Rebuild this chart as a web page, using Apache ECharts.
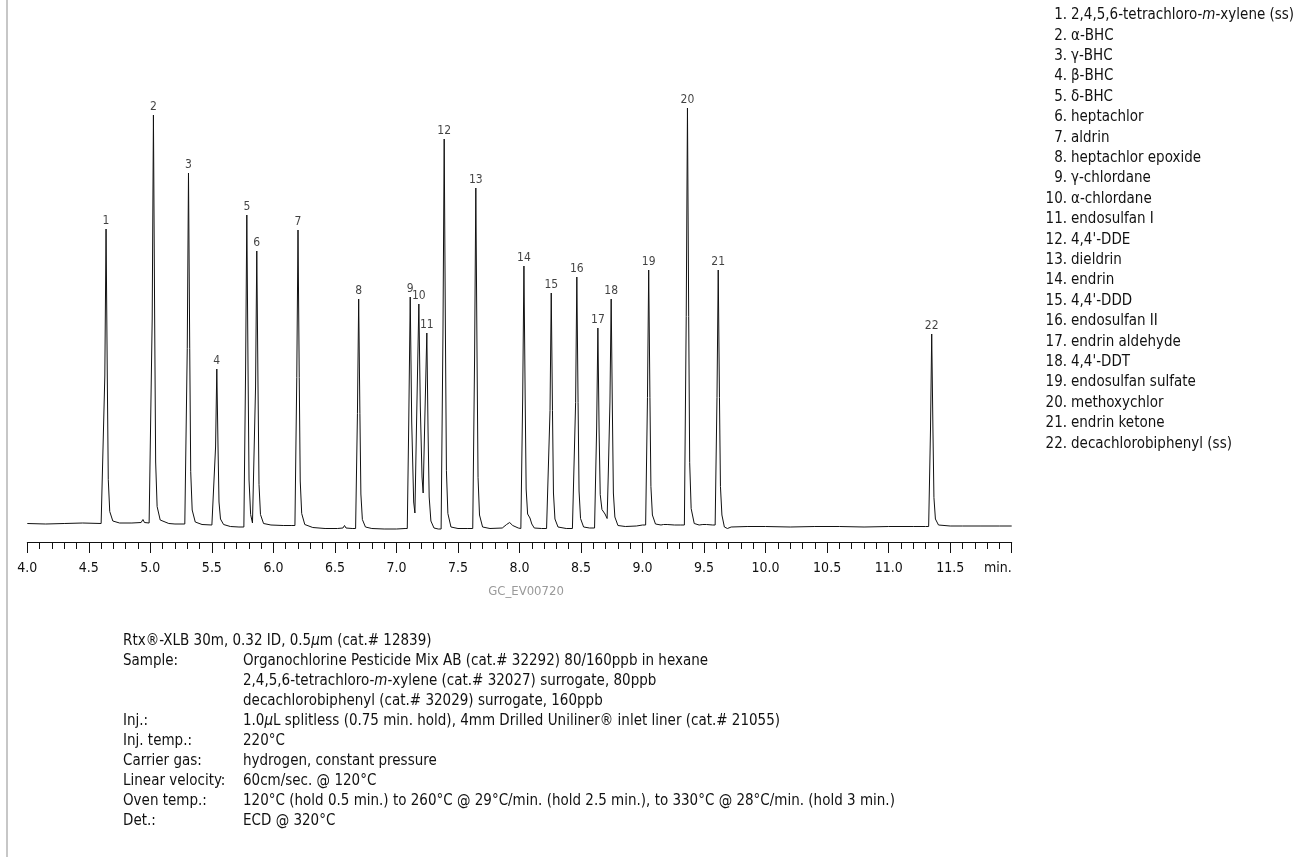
<!DOCTYPE html>
<html>
<head>
<meta charset="utf-8">
<script src="https://cdn.jsdelivr.net/npm/echarts@6.0.0/dist/echarts.min.js"></script>
<style>
html,body{margin:0;padding:0;background:#fff;}
#chart{width:1294px;height:857px;}
</style>
</head>
<body>
<div id="chart"></div>
<script>
// ---- DATA ----
// chromatogram trace: [retention time (min), detector signal (arb.)]
var trace = [
[4.00,3.7],[4.15,3.6],[4.30,3.7],[4.45,3.8],[4.60,3.7],
[4.615,3.7],[4.630,33.2],[4.640,62.6],[4.650,33.2],[4.658,12.5],[4.670,6.1],[4.695,4.2],
[4.75,3.8],[4.85,3.8],[4.925,3.9],[4.940,4.5],[4.952,3.9],[4.99,3.8],
[5.000,3.8],[5.015,44.6],[5.025,85.4],[5.035,44.6],[5.043,16.0],[5.055,7.1],[5.080,4.4],
[5.15,3.7],[5.20,3.6],[5.28,3.6],
[5.285,3.6],[5.300,38.7],[5.310,73.8],[5.320,38.7],[5.328,14.1],[5.340,6.4],[5.365,4.0],
[5.42,3.5],[5.50,3.4],
[5.515,3.3],[5.530,19.0],[5.540,34.6],[5.550,19.0],[5.558,8.0],[5.570,4.6],[5.595,3.5],
[5.65,3.1],[5.72,3.0],
[5.760,3.0],[5.774,34.2],[5.784,65.4],[5.794,34.2],[5.802,12.4],[5.815,5.5],[5.830,3.8],
[5.841,3.8],[5.855,31.0],[5.865,58.2],[5.875,31.0],[5.883,11.5],[5.895,5.5],[5.920,3.7],
[5.98,3.4],[6.08,3.3],[6.15,3.3],
[6.175,3.3],[6.190,32.9],[6.200,62.4],[6.210,32.9],[6.218,12.2],[6.230,5.7],[6.255,3.5],
[6.32,2.9],[6.42,2.7],[6.52,2.7],[6.565,2.8],[6.578,3.3],[6.590,2.8],[6.64,2.7],
[6.668,2.7],[6.683,25.7],[6.693,48.6],[6.703,25.7],[6.711,9.6],[6.723,4.5],[6.748,3.0],
[6.80,2.7],[6.90,2.6],[7.00,2.6],[7.07,2.7],
[7.088,2.7],[7.100,24.0],[7.112,49.0],[7.124,24.0],[7.140,8.0],[7.150,5.8],[7.162,22.0],
[7.182,47.6],[7.194,27.0],[7.208,13.0],[7.217,9.8],[7.230,24.0],[7.247,41.8],[7.257,22.0],
[7.266,9.0],[7.280,4.2],[7.305,2.8],
[7.34,2.6],[7.363,2.6],[7.378,41.6],[7.388,80.6],[7.398,41.6],[7.406,14.3],[7.418,5.7],[7.443,3.0],
[7.50,2.7],[7.58,2.7],
[7.620,2.7],[7.635,36.8],[7.645,70.8],[7.655,36.8],[7.663,12.9],[7.675,5.4],[7.700,3.0],
[7.76,2.7],[7.86,2.8],[7.895,3.5],[7.920,3.9],[7.945,3.3],[7.99,2.8],
[8.011,2.7],[8.026,29.0],[8.036,55.2],[8.046,29.0],[8.054,10.6],[8.066,5.6],[8.085,4.8],[8.100,3.6],[8.12,2.8],
[8.18,2.7],[8.22,2.7],
[8.233,2.7],[8.248,26.3],[8.258,49.8],[8.268,26.3],[8.276,9.8],[8.288,4.6],[8.313,3.0],
[8.38,2.7],[8.43,2.7],
[8.441,2.7],[8.456,27.9],[8.466,53.0],[8.476,27.9],[8.484,10.2],[8.496,4.7],[8.521,3.0],
[8.57,2.8],[8.61,2.8],
[8.612,2.8],[8.627,22.8],[8.637,42.8],[8.647,22.0],[8.656,9.5],[8.670,6.5],[8.695,5.6],[8.712,4.7],
[8.722,14.0],[8.735,28.0],[8.745,48.6],[8.755,26.0],[8.763,9.8],[8.775,5.0],[8.800,3.3],
[8.86,3.1],[8.95,3.2],[9.00,3.4],
[9.025,3.4],[9.040,28.9],[9.050,54.4],[9.060,28.9],[9.068,11.1],[9.080,5.4],[9.105,3.6],
[9.15,3.4],[9.170,3.5],[9.185,3.8],[9.200,3.5],[9.26,3.4],[9.31,3.4],
[9.340,3.4],[9.355,45.1],[9.365,86.8],[9.375,45.1],[9.383,15.9],[9.395,6.7],[9.420,3.7],
[9.46,3.4],[9.490,3.5],[9.505,3.8],[9.520,3.5],[9.57,3.4],
[9.590,3.4],[9.605,28.9],[9.615,54.4],[9.625,28.9],[9.633,11.1],[9.645,5.4],[9.665,3.0],[9.690,2.7],[9.72,3.0],
[9.85,3.1],[10.0,3.1],[10.2,3.0],[10.4,3.1],[10.6,3.1],[10.8,3.0],[11.0,3.1],[11.2,3.1],[11.30,3.1],
[11.325,3.1],[11.340,22.4],[11.350,41.6],[11.360,22.4],[11.368,8.9],[11.380,4.6],[11.405,3.4],
[11.50,3.2],[11.60,3.2],[11.75,3.2],[11.90,3.2],[12.00,3.2]
];
var peakNumbers = [1,2,3,4,5,6,7,8,9,10,11,12,13,14,15,16,17,18,19,20,21,22];
var peakTimes = [4.640,5.025,5.310,5.540,5.784,5.865,6.200,6.693,7.112,7.182,7.247,7.388,7.645,8.036,8.258,8.466,8.637,8.745,9.050,9.365,9.615,11.350];
var peakHeights = [62.6,85.4,73.8,34.6,65.4,58.2,62.4,48.6,49.0,47.6,41.8,80.6,70.8,55.2,49.8,53.0,42.8,48.6,54.4,86.8,54.4,41.6];
var tickLabels = ['4.0','4.5','5.0','5.5','6.0','6.5','7.0','7.5','8.0','8.5','9.0','9.5','10.0','10.5','11.0','11.5','min.'];
var compounds = [
 '2,4,5,6-tetrachloro-{i|m}-xylene (ss)','\u03b1-BHC','\u03b3-BHC','\u03b2-BHC','\u03b4-BHC',
 'heptachlor','aldrin','heptachlor epoxide','\u03b3-chlordane','\u03b1-chlordane','endosulfan I',
 '4,4\'-DDE','dieldrin','endrin','4,4\'-DDD','endosulfan II','endrin aldehyde','4,4\'-DDT',
 'endosulfan sulfate','methoxychlor','endrin ketone','decachlorobiphenyl (ss)'
];
var columnLine = 'Rtx\u00ae-XLB 30m, 0.32 ID, 0.5{i|\u03bc}m (cat.# 12839)';
var condLabels = ['Sample:','','','Inj.:','Inj. temp.:','Carrier gas:','Linear velocity:','Oven temp.:','Det.:'];
var condValues = [
 'Organochlorine Pesticide Mix AB (cat.# 32292) 80/160ppb in hexane',
 '2,4,5,6-tetrachloro-{i|m}-xylene (cat.# 32027) surrogate, 80ppb',
 'decachlorobiphenyl (cat.# 32029) surrogate, 160ppb',
 '1.0{i|\u03bc}L splitless (0.75 min. hold), 4mm Drilled Uniliner\u00ae inlet liner (cat.# 21055)',
 '220\u00b0C',
 'hydrogen, constant pressure',
 '60cm/sec. @ 120\u00b0C',
 '120\u00b0C (hold 0.5 min.) to 260\u00b0C @ 29\u00b0C/min. (hold 2.5 min.), to 330\u00b0C @ 28\u00b0C/min. (hold 3 min.)',
 'ECD @ 320\u00b0C'
];
var figureId = 'GC_EV00720';

// ---- STYLE / LAYOUT ----
var FONT = '"Liberation Sans Narrow","DejaVu Sans Condensed",sans-serif';
var TXT = '#111';
var FS = 15, SY = 1.08;
var chart = echarts.init(document.getElementById('chart'), null, {renderer:'canvas'});

function txt(x, y, s, align){
  return {type:'text', x:x, y:y, scaleY:SY, silent:true,
    style:{text:s, fill:TXT, font:FS+'px '+FONT, textAlign:align||'left', textVerticalAlign:'middle',
      rich:{i:{fontStyle:'italic', fontSize:FS, fontFamily:FONT, fill:TXT}}}};
}

var graphics = [];
graphics.push({type:'line', shape:{x1:7,y1:0,x2:7,y2:857}, style:{stroke:'#b5b5b5', lineWidth:1.5}, silent:true});
graphics.push({type:'text', x:526, y:592, silent:true, style:{text:figureId, fill:'#9a9a9a', font:'13px '+FONT, textAlign:'center', textVerticalAlign:'middle'}});
// compound legend
var LX = 1067, LY = 15, LH = 20.4;
compounds.forEach(function(c,i){
  graphics.push(txt(LX, LY+i*LH, (i+1)+'.', 'right'));
  graphics.push(txt(LX+4, LY+i*LH, c, 'left'));
});
// conditions block
var BX = 123, BV = 243, BY = 641, BH = 20;
graphics.push(txt(BX, BY, columnLine));
condLabels.forEach(function(l,i){
  var y = BY + (i+1)*BH;
  if (l) graphics.push(txt(BX, y, l));
  graphics.push(txt(BV, y, condValues[i]));
});

var labelData = peakTimes.map(function(t,i){ return [t, peakHeights[i]]; });

chart.setOption({
  animation:false,
  backgroundColor:'#fff',
  grid:{left:27.3, right:282.3, top:42, bottom:315, containLabel:false},
  xAxis:{
    type:'value', min:4, max:12, interval:0.5,
    axisLine:{show:true, onZero:false, lineStyle:{color:'#111', width:1}},
    axisTick:{show:true, length:11, lineStyle:{color:'#111', width:1}},
    minorTick:{show:true, splitNumber:5, length:7, lineStyle:{color:'#111', width:1}},
    splitLine:{show:false}, minorSplitLine:{show:false},
    axisLabel:{show:true, margin:19, color:TXT, fontSize:14, fontFamily:FONT, showMaxLabel:true, showMinLabel:true,
      alignMaxLabel:'right',
      formatter:function(v){ return tickLabels[Math.round((v-4)/0.5)]; }}
  },
  yAxis:{type:'value', min:0, max:100, show:false, splitLine:{show:false}},
  series:[
    {type:'line', data:trace, showSymbol:false, symbol:'none', smooth:false, sampling:null,
     lineStyle:{color:'#111', width:1}, silent:true, z:2},
    {type:'scatter', data:labelData, symbol:'circle', symbolSize:1, itemStyle:{color:'rgba(0,0,0,0)'},
     label:{show:true, position:'top', distance:2, color:TXT, fontSize:12, fontFamily:FONT,
       formatter:function(p){ return String(peakNumbers[p.dataIndex]); }}, silent:true, z:3}
  ],
  graphic:graphics
});
</script>
</body>
</html>
